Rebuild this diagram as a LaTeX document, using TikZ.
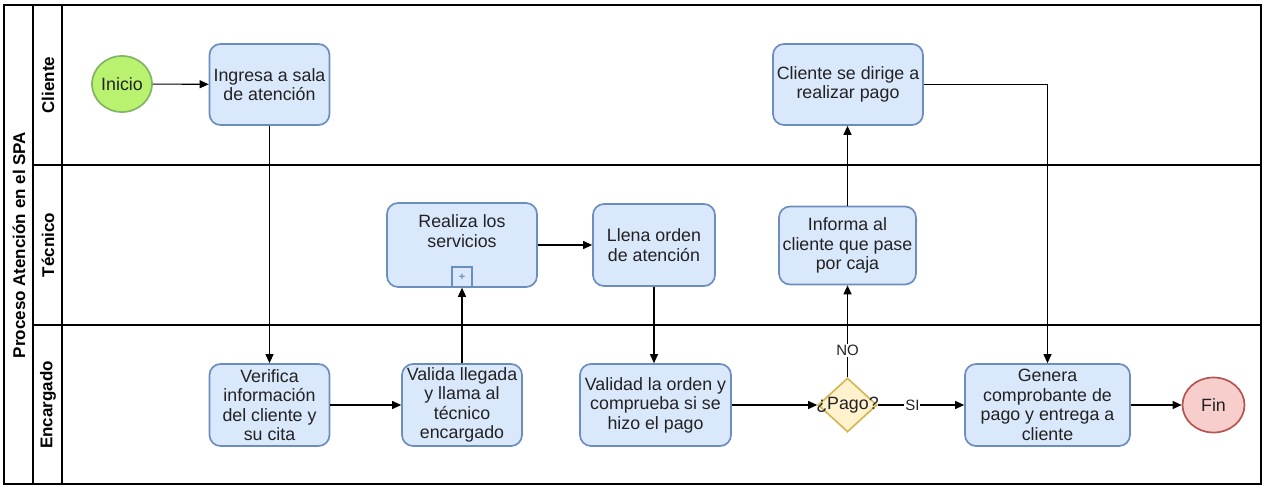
\documentclass[tikz,border=0pt]{standalone}
\usepackage{fontspec}
\setmainfont{Liberation Sans}
\usetikzlibrary{shapes.geometric,arrows.meta}
\definecolor{boxfill}{HTML}{DAE8FC}
\definecolor{boxline}{HTML}{6C8EBF}
\definecolor{startfill}{HTML}{B9F26E}
\definecolor{startline}{HTML}{82B366}
\definecolor{endfill}{HTML}{F8CECC}
\definecolor{endline}{HTML}{B85450}
\definecolor{decfill}{HTML}{FFF2CC}
\definecolor{decline}{HTML}{D6B656}
\definecolor{txt}{HTML}{222222}
\begin{document}
\begin{tikzpicture}[x=1pt,y=-1pt,
  every node/.style={font=\fontsize{17.8}{19.5}\selectfont, text=txt},
  task/.style={draw=boxline, fill=boxfill, line width=1.7pt, rounded corners=11pt, align=center, inner sep=0pt},
  evstart/.style={ellipse, draw=startline, fill=startfill, line width=1.7pt, minimum width=60pt, minimum height=56pt, inner sep=0pt},
  evend/.style={ellipse, draw=endline, fill=endfill, line width=1.7pt, minimum width=62pt, minimum height=55pt, inner sep=0pt},
  decision/.style={diamond, draw=decline, fill=decfill, line width=1.7pt, minimum width=59pt, minimum height=54pt, inner sep=0pt},
  flow/.style={draw=black, line width=1.1pt, -{Triangle[length=9pt,width=8pt]}},
  lanelabel/.style={rotate=90, font=\bfseries\fontsize{17}{19.5}\selectfont, text=black},
  flowlabel/.style={fill=white, inner sep=1pt, font=\fontsize{15}{18}\selectfont}
]
\useasboundingbox (0,0) rectangle (1265,486);
% pool and lanes
\draw[line width=1.5pt] (4,5) rectangle (1261,484);
\draw[line width=1.2pt] (33,5) -- (33,484);
\draw[line width=1.2pt] (62,5) -- (62,484);
\draw[line width=1.2pt] (33,165) -- (1261,165);
\draw[line width=1.2pt] (33,325) -- (1261,325);
\node[lanelabel] (pool) at (19,245) {Proceso Atención en el SPA};
\node[lanelabel] (lc) at (48,85) {Cliente};
\node[lanelabel] (lt) at (48,245) {Técnico};
\node[lanelabel] (le) at (48,405) {Encargado};
% nodes
\node[evstart] (inicio) at (122,84) {Inicio};
\node[task, minimum width=120pt, minimum height=81pt] (ingresa) at (269.5,84.5) {Ingresa a sala\\de atención};
\node[task, minimum width=120pt, minimum height=82pt] (verifica) at (269.5,405) {Verifica\\información\\del cliente y\\su cita};
\node[task, minimum width=120pt, minimum height=82pt] (valida) at (462,405) {Valida llegada\\y llama al\\técnico\\encargado};
\node[task, minimum width=150pt, minimum height=84pt, text depth=28pt] (realiza) at (462,245) {Realiza los\\servicios};
\node[draw=boxline, line width=1.5pt, minimum size=20pt, inner sep=0pt, font=\bfseries\fontsize{11}{11}\selectfont, text=boxline] (plus) at (462,277) {+};
\node[task, minimum width=122pt, minimum height=82pt] (llena) at (654,245) {Llena orden\\de atención};
\node[task, minimum width=151pt, minimum height=82pt] (validad) at (655.5,405) {Validad la orden y\\comprueba si se\\hizo el pago};
\node[decision, label={[text=txt]center:¿Pago?}] (pago) at (847.5,405) {};
\node[task, minimum width=137pt, minimum height=78pt] (informa) at (847.5,245.5) {Informa al\\cliente que pase\\por caja};
\node[task, minimum width=150pt, minimum height=81pt] (dirige) at (848,84.5) {Cliente se dirige a\\realizar pago};
\node[task, minimum width=165pt, minimum height=82pt] (genera) at (1047.5,405) {Genera\\comprobante de\\pago y entrega a\\cliente};
\node[evend] (fin) at (1213.5,405) {Fin};
\coordinate (corner) at (genera.north |- dirige.east);
% connectors
\draw[flow] (inicio) -- (ingresa);
\draw[flow] (ingresa) -- (verifica);
\draw[flow] (verifica) -- (valida);
\draw[flow] (valida) -- (plus.south);
\draw[flow] (realiza.east |- llena.west) -- (llena);
\draw[flow] (llena) -- (llena |- validad.north);
\draw[flow] (validad) -- (pago);
\draw[flow] (pago) -- node[flowlabel, pos=0.29] (nolab) {NO} (informa);
\draw[flow] (informa) -- (informa |- dirige.south);
\draw[flow] (pago) -- node[flowlabel, pos=0.4] (silab) {SI} (genera);
\draw[flow] (dirige.east) -- (corner) -- (genera.north);
\draw[flow] (genera) -- (fin);
\end{tikzpicture}
\end{document}
